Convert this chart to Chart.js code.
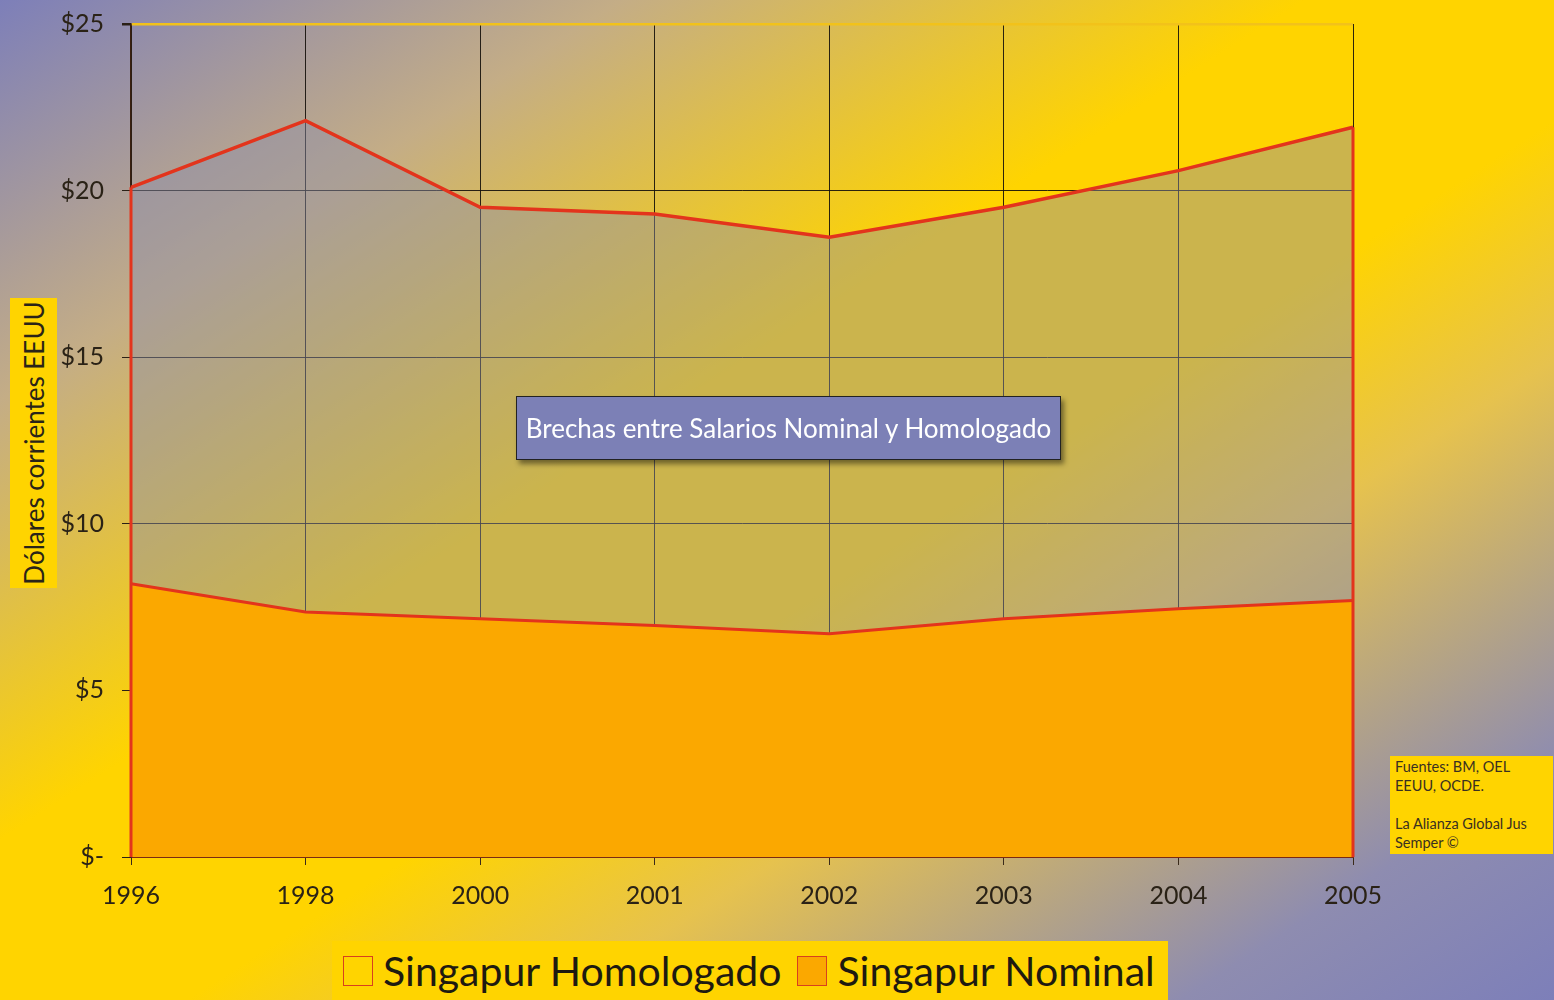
<!DOCTYPE html>
<html>
<head>
<meta charset="utf-8">
<script src="https://cdn.jsdelivr.net/npm/chart.js@4.4.1/dist/chart.umd.min.js"></script>
<style>
    html, body { margin: 0; padding: 0; }
    body {
        width: 1554px;
        height: 1000px;
        overflow: hidden;
        position: relative;
        font-family: Lato, "Open Sans", sans-serif;
        background: linear-gradient(to bottom right, #7d7fb9 0%, #c4ad86 20%, #ffd400 42%, #ffd400 56%, #e6c24e 68%, #8e8cb0 88%, #7d7fb9 100%);
    }
    #chart-wrap { position: absolute; left: 0; top: -9px; width: 1554px; height: 1009px; }
    .y-title {
        position: absolute;
        left: 10px; top: 298px;
        width: 47px; height: 290px;
        background: #ffd400;
    }
    .y-title span {
        position: absolute;
        left: 50%; top: 50%;
        transform: translate(-50%, -50%) rotate(-90deg);
        white-space: nowrap;
        font-size: 26px;
        color: #2a2418;
    }
    .chart-title {
        position: absolute;
        left: 516px; top: 396px;
        width: 543px; height: 62px;
        background: #7c80b6;
        border: 1px solid #222;
        box-shadow: 3px 4px 5px rgba(0,0,0,0.45);
        color: #fff;
        font-size: 26px;
        line-height: 62px;
        text-align: center;
    }
    .sources {
        position: absolute;
        left: 1390px; top: 756px;
        width: 158px; height: 92px;
        padding: 1px 0 5px 5px;
        background: #ffd400;
        color: #3a3020;
        font-size: 14.5px;
        line-height: 19px;
    }
    #legend {
        position: absolute;
        left: 332px; top: 941px;
        width: 836px; height: 59px;
        box-sizing: border-box;
        padding-left: 11px;
        background: #ffd400;
        display: flex;
        align-items: center;
        gap: 16px;
        font-size: 41px;
        color: #1e1a10;
    }
    #legend .item { display: flex; align-items: center; gap: 10px; }
    #legend .box { width: 30px; height: 30px; border: 1.5px solid #d8401e; box-sizing: border-box; }
</style>
</head>
<body>
<div id="chart-wrap"><canvas id="chart" width="1554" height="1009"></canvas></div>
<div class="y-title"><span>Dólares corrientes EEUU</span></div>
<div class="chart-title">Brechas entre Salarios Nominal y Homologado</div>
<div class="sources">Fuentes: BM, OEL<br>EEUU, OCDE.<br><br>La Alianza Global Jus<br>Semper ©</div>
<div id="legend"></div>
<script>
// Data
const years = ['1996', '1998', '2000', '2001', '2002', '2003', '2004', '2005'];
const homologado = [20.1, 22.1, 19.5, 19.3, 18.6, 19.5, 20.6, 21.9];
const nominal = [8.2, 7.35, 7.15, 6.95, 6.7, 7.15, 7.45, 7.7];
const yTicks = [0, 5, 10, 15, 20, 25];

const lineRed = '#e3341c';
const orange = '#fba800';

// Red vertical edges of the upper area (first and last point down to zero)
const edgeLines = {
    id: 'edgeLines',
    afterDatasetsDraw(chart) {
        const meta = chart.getDatasetMeta(0);
        const y0 = chart.scales.y.getPixelForValue(0);
        const ctx = chart.ctx;
        ctx.save();
        ctx.strokeStyle = lineRed;
        ctx.lineWidth = 3;
        [meta.data[0], meta.data[meta.data.length - 1]].forEach(pt => {
            ctx.beginPath();
            ctx.moveTo(pt.x, pt.y);
            ctx.lineTo(pt.x, y0);
            ctx.stroke();
        });
        ctx.restore();
    }
};

const ctx = document.getElementById('chart').getContext('2d');
const chart = new Chart(ctx, {
    type: 'line',
    data: {
        labels: years,
        datasets: [
            {
                label: 'Singapur Homologado',
                data: homologado,
                borderColor: lineRed,
                borderWidth: 3.5,
                backgroundColor: 'rgba(140, 142, 170, 0.45)',
                fill: '+1',
                pointRadius: 0,
                tension: 0
            },
            {
                label: 'Singapur Nominal',
                data: nominal,
                borderColor: lineRed,
                borderWidth: 3,
                backgroundColor: orange,
                fill: 'origin',
                pointRadius: 0,
                tension: 0
            }
        ]
    },
    options: {
        responsive: false,
        animation: false,
        layout: { padding: { left: 0, right: 201, top: 15, bottom: 83 } },
        plugins: {
            legend: { display: false },
            tooltip: { enabled: false },
            filler: { drawTime: 'beforeDatasetsDraw' }
        },
        scales: {
            x: {
                offset: false,
                afterFit: scale => { scale.height = 60; },
                grid: {
                    color: 'rgba(20, 15, 10, 0.9)',
                    lineWidth: 1,
                    tickLength: 8,
                    tickColor: '#3a2a1a'
                },
                border: { color: '#7a2a12', width: 2 },
                ticks: {
                    color: '#2a2216',
                    font: { family: 'Lato', size: 25 },
                    padding: 16,
                    maxRotation: 0
                }
            },
            y: {
                min: 0,
                max: 25,
                afterFit: scale => { scale.width = 131; },
                afterBuildTicks: scale => { scale.ticks = yTicks.map(v => ({ value: v })); },
                grid: {
                    color: ctx => ctx.tick && ctx.tick.value === 25 ? '#f2c21a' : 'rgba(20, 15, 10, 0.9)',
                    lineWidth: ctx => ctx.tick && ctx.tick.value === 25 ? 2.5 : 1,
                    tickLength: 9,
                    tickColor: '#2a2016'
                },
                border: { color: '#3a2010', width: 1.5 },
                ticks: {
                    color: '#2a2216',
                    font: { family: 'Lato', size: 25 },
                    padding: 18,
                    callback: v => v === 0 ? '$-' : '$' + v
                }
            }
        }
    },
    plugins: [edgeLines]
});

// Legend built from the datasets
const legend = document.getElementById('legend');
chart.data.datasets.forEach((ds, i) => {
    const item = document.createElement('div');
    item.className = 'item';
    item.innerHTML = `<span class="box" style="background:${i === 0 ? 'transparent' : ds.backgroundColor}"></span>${ds.label}`;
    legend.appendChild(item);
});
</script>
</body>
</html>
